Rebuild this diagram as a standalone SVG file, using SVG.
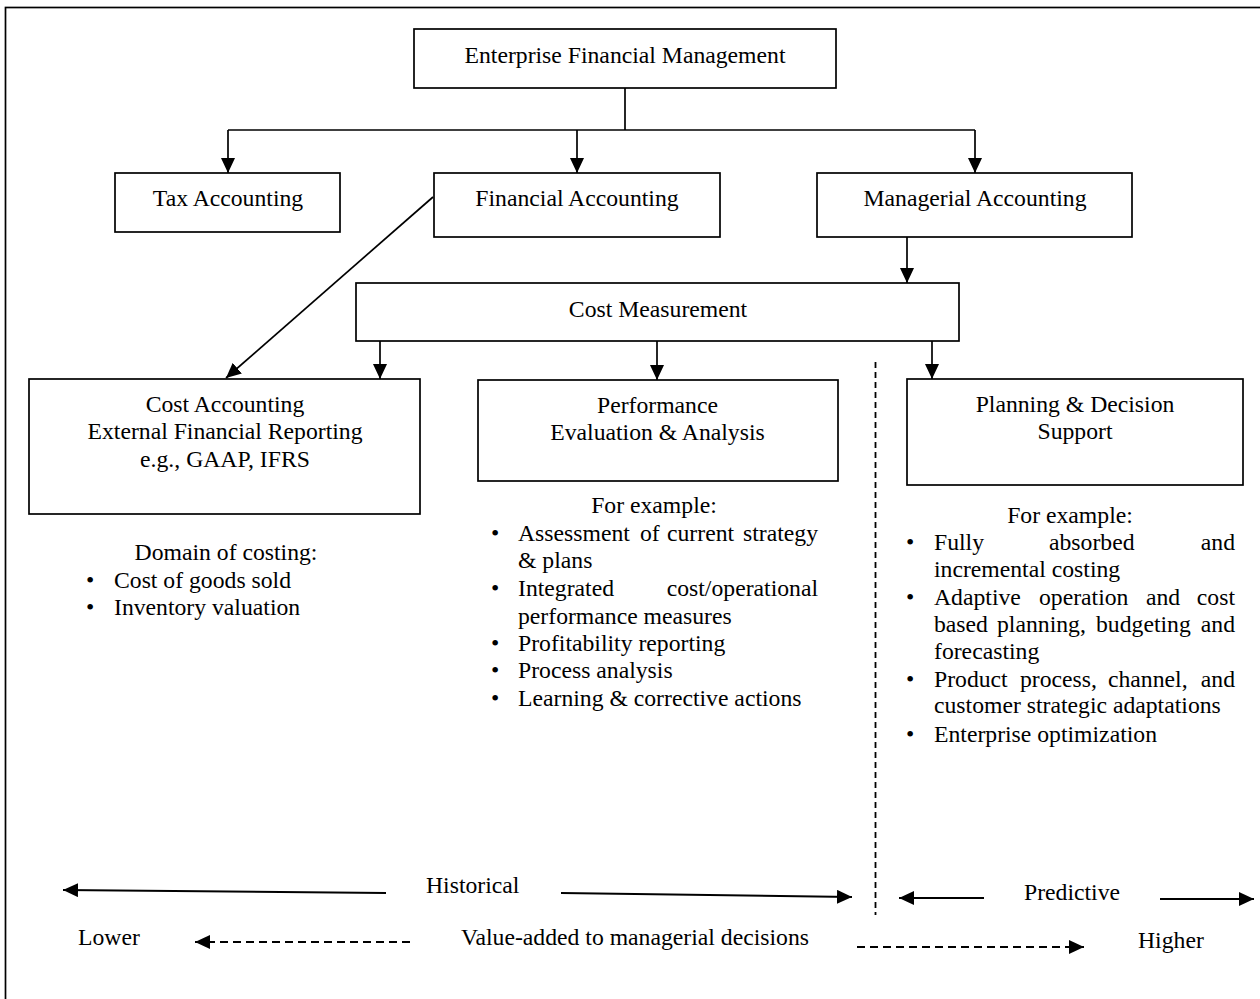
<svg xmlns="http://www.w3.org/2000/svg" width="1260" height="999" viewBox="0 0 1260 999">
<style>
text{font-family:"Liberation Serif","Times New Roman",serif;font-size:23.7px;fill:#000}
.c{text-anchor:middle}
.e{text-anchor:end}
.box{fill:#fff;stroke:#000;stroke-width:1.7}
.ln{fill:none;stroke:#000;stroke-width:1.7}
.bl{fill:none;stroke:#000;stroke-width:2}
.dash{fill:none;stroke:#000;stroke-width:1.8;stroke-dasharray:8 5}
.vdash{fill:none;stroke:#000;stroke-width:1.8;stroke-dasharray:6 4}
</style>
<defs>
<marker id="ah" markerUnits="userSpaceOnUse" markerWidth="15" markerHeight="14" refX="15" refY="7" orient="auto" viewBox="0 0 15 14">
<path d="M0,0 L15,7 L0,14 z" fill="#000"/>
</marker>
</defs>
<rect x="5.5" y="7.5" width="1300" height="1100" fill="#fff" stroke="#000" stroke-width="1.7"/>

<g id="connectors">
<path class="ln" d="M625,88 V130"/>
<path class="ln" d="M228,130 H975"/>
<path class="ln" d="M228,130 V173" marker-end="url(#ah)"/>
<path class="ln" d="M577,130 V173" marker-end="url(#ah)"/>
<path class="ln" d="M975,130 V173" marker-end="url(#ah)"/>
<path class="ln" d="M907,237 V283" marker-end="url(#ah)"/>
<path class="ln" d="M433,197 L226,378" marker-end="url(#ah)"/>
<path class="ln" d="M380,341 V379" marker-end="url(#ah)"/>
<path class="ln" d="M657,341 V380" marker-end="url(#ah)"/>
<path class="ln" d="M932,341 V379" marker-end="url(#ah)"/>
<path class="vdash" d="M875.5,362 V915"/>
<path class="bl" d="M386,893 L63,890" marker-end="url(#ah)"/>
<path class="bl" d="M561,893 L852,897" marker-end="url(#ah)"/>
<path class="bl" d="M984,898 L899,898" marker-end="url(#ah)"/>
<path class="bl" d="M1160,899 L1254,899" marker-end="url(#ah)"/>
<path class="dash" d="M410,942 L195,942" marker-end="url(#ah)"/>
<path class="dash" d="M857,947 L1084,947" marker-end="url(#ah)"/>
</g>

<g id="n-efm"><rect class="box" x="414" y="29" width="422" height="59"/><text class="c" x="625" y="63">Enterprise Financial Management</text></g>
<g id="n-tax"><rect class="box" x="115" y="173" width="225" height="59"/><text class="c" x="228" y="206">Tax Accounting</text></g>
<g id="n-fin"><rect class="box" x="434" y="173" width="286" height="64"/><text class="c" x="577" y="206">Financial Accounting</text></g>
<g id="n-man"><rect class="box" x="817" y="173" width="315" height="64"/><text class="c" x="975" y="206">Managerial Accounting</text></g>
<g id="n-cost"><rect class="box" x="356" y="283" width="603" height="58"/><text class="c" x="658" y="317">Cost Measurement</text></g>
<g id="n-ca"><rect class="box" x="29" y="379" width="391" height="135"/>
<text class="c" x="225" y="412">Cost Accounting</text>
<text class="c" x="225" y="439">External Financial Reporting</text>
<text class="c" x="225" y="467">e.g., GAAP, IFRS</text></g>
<g id="n-perf"><rect class="box" x="478" y="380" width="360" height="101"/>
<text class="c" x="657.5" y="413">Performance</text>
<text class="c" x="657.5" y="440">Evaluation &amp; Analysis</text></g>
<g id="n-plan"><rect class="box" x="907" y="379" width="336" height="106"/>
<text class="c" x="1075" y="412">Planning &amp; Decision</text>
<text class="c" x="1075" y="439">Support</text></g>

<g id="list-ca">
<text class="c" x="226" y="560">Domain of costing:</text>
<text x="86" y="588">•</text><text x="114" y="588">Cost of goods sold</text>
<text x="86" y="615">•</text><text x="114" y="615">Inventory valuation</text>
</g>

<g id="list-perf">
<text class="c" x="654" y="513">For example:</text>
<text x="491" y="541">•</text>
<text y="541"><tspan x="518">Assessment</tspan><tspan x="640">of</tspan><tspan x="667">current</tspan><tspan x="743">strategy</tspan></text>
<text x="518" y="568">&amp; plans</text>
<text x="491" y="596">•</text>
<text x="518" y="596">Integrated</text><text class="e" x="818" y="596">cost/operational</text>
<text x="518" y="624">performance measures</text>
<text x="491" y="651">•</text><text x="518" y="651">Profitability reporting</text>
<text x="491" y="678">•</text><text x="518" y="678">Process analysis</text>
<text x="491" y="706">•</text><text x="518" y="706">Learning &amp; corrective actions</text>
</g>

<g id="list-plan">
<text class="c" x="1070" y="523">For example:</text>
<text x="906" y="550">•</text>
<text x="934" y="550">Fully</text><text x="1049" y="550">absorbed</text><text class="e" x="1235" y="550">and</text>
<text x="934" y="577">incremental costing</text>
<text x="906" y="605">•</text>
<text x="934" y="605">Adaptive</text><text x="1039" y="605">operation</text><text x="1146" y="605">and</text><text class="e" x="1235" y="605">cost</text>
<text x="934" y="632">based</text><text x="997" y="632">planning,</text><text x="1096" y="632">budgeting</text><text class="e" x="1235" y="632">and</text>
<text x="934" y="659">forecasting</text>
<text x="906" y="687">•</text>
<text x="934" y="687">Product</text><text x="1020" y="687">process,</text><text x="1108" y="687">channel,</text><text class="e" x="1235" y="687">and</text>
<text x="934" y="713">customer strategic adaptations</text>
<text x="906" y="742">•</text><text x="934" y="742">Enterprise optimization</text>
</g>

<g id="axis-labels">
<text x="426" y="893">Historical</text>
<text x="1024" y="900">Predictive</text>
<text x="78" y="945">Lower</text>
<text x="461" y="945">Value-added to managerial decisions</text>
<text x="1138" y="948">Higher</text>
</g>
</svg>
